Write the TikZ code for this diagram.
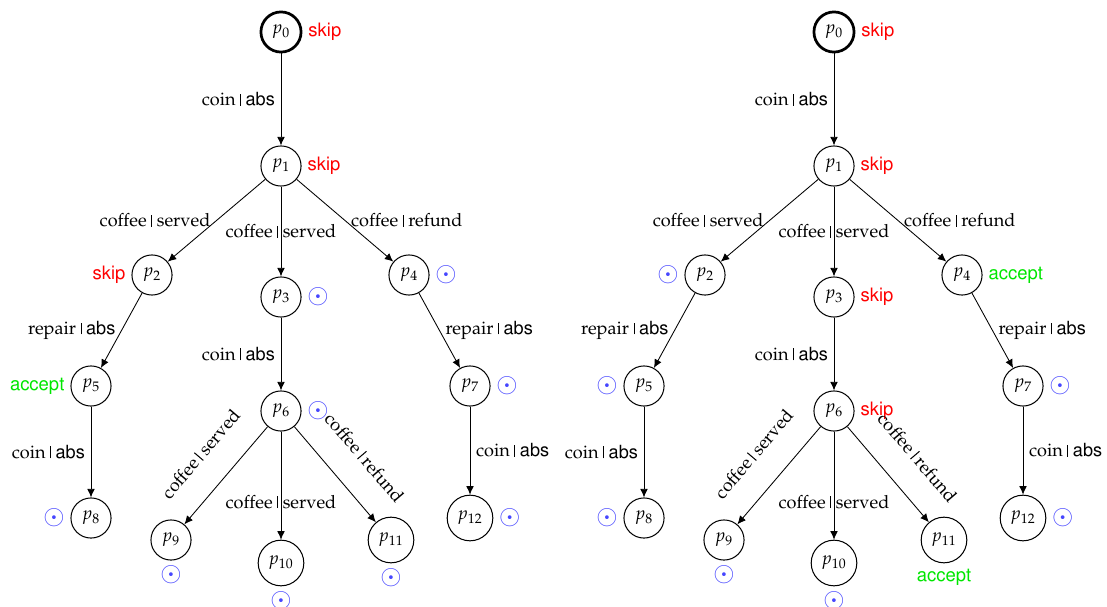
\documentclass[tikz,border=0pt]{standalone}
\usepackage[T1]{fontenc}
\usepackage{mathpazo}
\usepackage{helvet}
\usepackage{graphicx}
\usetikzlibrary{arrows.meta}
\definecolor{sunc}{RGB}{70,70,255}
\newcommand\sunm{\textcolor{sunc}{\scalebox{1.45}{$\odot$}}}
\newcommand\sepb{\rule{0.6pt}{6.9pt}}
\newcommand\cab{coin \sepb\ \textsf{abs}}
\newcommand\rab{repair \sepb\ \textsf{abs}}
\newcommand\cse{coffee \sepb\ served}
\newcommand\cre{coffee \sepb\ refund}
\tikzset{
  st/.style={circle,draw,inner sep=3.6pt,line width=0.6pt},
  init/.style={st,line width=1.6pt},
  tr/.style={-{Latex[length=5pt,width=4.5pt]},line width=0.5pt},
  sk/.style={text=red,font=\fontsize{10.8}{13}\sffamily},
  ac/.style={text={rgb,255:red,0;green,230;blue,0},font=\fontsize{10.8}{13}\sffamily},
  sn/.style={inner sep=3pt},
}
\begin{document}
\begin{tikzpicture}[x=0.585pt,y=-0.585pt,font=\fontsize{10.6}{13}\selectfont]
\useasboundingbox (0,0) rectangle (1107,607);
% left tree
\node[init,label={[sk]right:skip}] (a0) at (281,32) {$p_0$};
\node[st,label={[sk]right:skip}] (a1) at (281,166) {$p_1$};
\node[st,label={[sk]left:skip}] (a2) at (152,275) {$p_2$};
\node[st,label={[sn]right:\sunm}] (a3) at (281,297) {$p_3$};
\node[st,label={[sn]right:\sunm}] (a4) at (409,275) {$p_4$};
\node[st,label={[ac]left:accept}] (a5) at (91,386) {$p_5$};
\node[st,label={[sn]right:\sunm}] (a6) at (281,411) {$p_6$};
\node[st,label={[sn]right:\sunm}] (a7) at (470,386) {$p_7$};
\node[st,label={[sn]left:\sunm}] (a8) at (91,518) {$p_8$};
\node[st,label={[sn]below:\sunm}] (a9) at (171,540) {$p_9$};
\node[st,label={[sn]below:\sunm}] (a10) at (281,563) {$p_{10}$};
\node[st,label={[sn]below:\sunm}] (a11) at (391,540) {$p_{11}$};
\node[st,label={[sn]right:\sunm}] (a12) at (470,518) {$p_{12}$};
\draw[tr] (a0) -- node[left] {\cab} (a1);
\draw[tr] (a1) -- node[left] {\cse} (a2);
\draw[tr] (a1) -- node {\cse} (a3);
\draw[tr] (a1) -- node[right] {\cre} (a4);
\draw[tr] (a2) -- node[left] {\rab} (a5);
\draw[tr] (a3) -- node[left] {\cab} (a6);
\draw[tr] (a4) -- node[right] {\rab} (a7);
\draw[tr] (a5) -- node[left] {\cab} (a8);
\draw[tr] (a6) -- node[sloped,above=12pt] {\cse} (a9);
\draw[tr] (a6) -- node[pos=0.65] {\cse} (a10);
\draw[tr] (a6) -- node[sloped,above=12pt,pos=0.55] {\cre} (a11);
\draw[tr] (a7) -- node[right] {\cab} (a12);
% right tree
\begin{scope}[shift={(553,0)}]
\node[init,label={[sk]right:skip}] (b0) at (281,32) {$p_0$};
\node[st,label={[sk]right:skip}] (b1) at (281,166) {$p_1$};
\node[st,label={[sn]left:\sunm}] (b2) at (152,275) {$p_2$};
\node[st,label={[sk]right:skip}] (b3) at (281,297) {$p_3$};
\node[st,label={[ac]right:accept}] (b4) at (409,275) {$p_4$};
\node[st,label={[sn]left:\sunm}] (b5) at (91,386) {$p_5$};
\node[st,label={[sk]right:skip}] (b6) at (281,411) {$p_6$};
\node[st,label={[sn]right:\sunm}] (b7) at (470,386) {$p_7$};
\node[st,label={[sn]left:\sunm}] (b8) at (91,518) {$p_8$};
\node[st,label={[sn]below:\sunm}] (b9) at (171,540) {$p_9$};
\node[st,label={[sn]below:\sunm}] (b10) at (281,563) {$p_{10}$};
\node[st,label={[ac]below:accept}] (b11) at (391,540) {$p_{11}$};
\node[st,label={[sn]right:\sunm}] (b12) at (470,518) {$p_{12}$};
\draw[tr] (b0) -- node[left] {\cab} (b1);
\draw[tr] (b1) -- node[left] {\cse} (b2);
\draw[tr] (b1) -- node {\cse} (b3);
\draw[tr] (b1) -- node[right] {\cre} (b4);
\draw[tr] (b2) -- node[left] {\rab} (b5);
\draw[tr] (b3) -- node[left] {\cab} (b6);
\draw[tr] (b4) -- node[right] {\rab} (b7);
\draw[tr] (b5) -- node[left] {\cab} (b8);
\draw[tr] (b6) -- node[sloped,above=12pt] {\cse} (b9);
\draw[tr] (b6) -- node[pos=0.65] {\cse} (b10);
\draw[tr] (b6) -- node[sloped,above=12pt,pos=0.55] {\cre} (b11);
\draw[tr] (b7) -- node[right] {\cab} (b12);
\end{scope}
\end{tikzpicture}
\end{document}
